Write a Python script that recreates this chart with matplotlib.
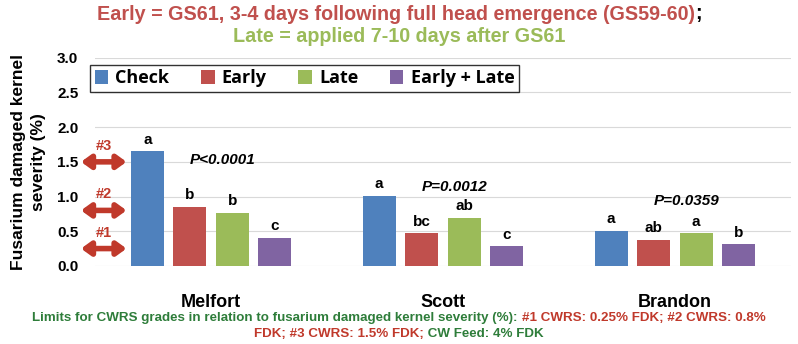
import numpy as np
import matplotlib
matplotlib.use("Agg")
import matplotlib.pyplot as plt

# data
sites = ["Melfort", "Scott", "Brandon"]
treatments = ["Check", "Early", "Late", "Early + Late"]
check = [1.65, 1.01, 0.51]
early = [0.85, 0.47, 0.37]
late = [0.76, 0.69, 0.47]
early_late = [0.40, 0.28, 0.31]
letters_check = ["a", "a", "a"]
letters_early = ["b", "bc", "ab"]
letters_late = ["b", "ab", "a"]
letters_early_late = ["c", "c", "b"]
p_values = ["P<0.0001", "P=0.0012", "P=0.0359"]
p_heights = [1.52, 1.14, 0.93]
grade_limits = [0.25, 0.8, 1.5]
grade_names = ["#1", "#2", "#3"]

COLORS = ["#4F81BD", "#C0504D", "#9BBB59", "#8064A2"]
ARIAL = ["Liberation Sans", "DejaVu Sans"]

fig = plt.figure(figsize=(7.98, 3.44), dpi=100)
ax = fig.add_axes([0.119, 0.227, 0.872, 0.605])

x = np.arange(len(sites))
width = 0.142
step = 0.183
series = [check, early, late, early_late]
letters = [letters_check, letters_early, letters_late, letters_early_late]
for k, (vals, labs) in enumerate(zip(series, letters)):
    pos = x + (k - 1.5) * step
    ax.bar(pos, vals, width, color=COLORS[k], label=treatments[k], zorder=3)
    for px, v, lab in zip(pos, vals, labs):
        ax.text(px, v + 0.17, lab, ha="center", va="center", fontsize=11,
                fontweight="bold", family=ARIAL)

for i, (ptxt, ph) in enumerate(zip(p_values, p_heights)):
    ax.text(x[i] + 0.05, ph, ptxt, ha="center", va="center", fontsize=11,
            fontweight="bold", fontstyle="italic", family=ARIAL)

ax.set_xlim(-0.5, 2.5)
ax.set_ylim(0, 3.0)
ax.set_yticks(np.arange(0, 3.01, 0.5))
ax.set_yticklabels([f"{t:.1f}" for t in np.arange(0, 3.01, 0.5)],
                   fontsize=11, fontweight="bold", family=ARIAL)
ax.set_xticks(x)
ax.set_xticklabels(sites, fontsize=13, fontweight="bold", family=ARIAL)
ax.tick_params(axis="y", length=0, pad=12)
ax.tick_params(axis="x", length=0, pad=20)
for s in ax.spines.values():
    s.set_visible(False)
ax.grid(axis="y", color="#D9D9D9", lw=0.8, zorder=0)
ax.set_ylabel("Fusarium damaged kernel\nseverity (%)", fontsize=12.5,
              fontweight="bold", family=ARIAL, labelpad=8, linespacing=1.45)

# grade limit arrows
for lim, name in zip(grade_limits, grade_names):
    ax.annotate("", xy=(-0.56, lim), xytext=(-0.364, lim),
                arrowprops=dict(arrowstyle="<|-|>,head_width=0.4,head_length=0.55",
                                color="#C0392B", lw=4, shrinkA=0, shrinkB=0),
                annotation_clip=False)
    ax.text(-0.462, lim + 0.23, name, ha="center", va="center", fontsize=10.5,
            fontweight="bold", color="#C0392B", family=ARIAL, clip_on=False)

leg = ax.legend(loc="upper left", bbox_to_anchor=(-0.007, 0.966), ncol=4,
                frameon=True, fancybox=False, edgecolor="black",
                handlelength=0.75, handleheight=0.75, handletextpad=0.4,
                columnspacing=1.75, borderpad=0.25, borderaxespad=0,
                prop={"family": ["Open Sans", "DejaVu Sans"], "weight": "bold",
                      "size": 13})
leg.get_frame().set_linewidth(1.0)


def colored_line(pieces, y, size):
    """Draw a centered line of text made of (string, color) pieces."""
    renderer = fig.canvas.get_renderer()
    texts = [fig.text(0, y, s, color=c, fontsize=size, fontweight="bold",
                      family=ARIAL, va="center") for s, c in pieces]
    widths = [t.get_window_extent(renderer).width / fig.bbox.width for t in texts]
    start = 0.5 - sum(widths) / 2
    for t, w in zip(texts, widths):
        t.set_x(start)
        start += w


colored_line([("Early = GS61, 3-4 days following full head emergence (GS59-60)", "#C0504D"),
              (";", "black")], 1 - 14 / 344, 14.2)
colored_line([("Late = applied 7-10 days after GS61", "#9BBB59")], 1 - 36 / 344, 14.2)

colored_line([("Limits for CWRS grades in relation to fusarium damaged kernel severity (%): ", "#2E7D3A"),
              ("#1 CWRS: 0.25% FDK; #2 CWRS: 0.8%", "#C0392B")], 1 - 318 / 344, 9.6)
colored_line([("FDK; #3 CWRS: 1.5% FDK;", "#C0392B"),
              (" CW Feed: 4% FDK", "#2E7D3A")], 1 - 334 / 344, 9.6)

fig.savefig("out.png", dpi=100)
